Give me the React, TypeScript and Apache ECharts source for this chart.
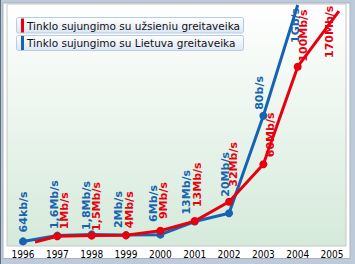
import React, { useEffect, useRef } from "react";
import * as echarts from "echarts";

const yearTicks = [1996, 1997, 1998, 1999, 2000, 2001, 2002, 2003, 2004, 2005];

const redName = "Tinklo sujungimo su užsieniu greitaveika";
const blueName = "Tinklo sujungimo su Lietuva greitaveika";

const blueYears = [1996, 1997, 1998, 1999, 2000, 2001, 2002, 2003, 2004];
const blueValues = [1.9, 4.3, 4.8, 4.5, 4.7, 10.1, 13.5, 53.8, 99.6];
const blueLabels = ["64kb/s", "1,6Mb/s", "1,8Mb/s", "2Mb/s", "6Mb/s", "13Mb/s", "20Mb/s", "80b/s", "1Gb/s"];

const redYears = [1996.35, 1997, 1998, 1999, 2000, 2001, 2002, 2003, 2004, 2005.2];
const redValues = [1.65, 4.0, 4.3, 4.4, 6.3, 10.3, 18.3, 33.8, 74.1, 97.1];
const redLabels = ["", "1Mb/s", "1,5Mb/s", "4Mb/s", "9Mb/s", "13Mb/s", "32Mb/s", "60Mb/s", "100Mb/s", "170Mb/s"];

// layout: where each rotated label starts, relative to its point (px)
const blueLabelShift = [[0, -9], [-3, -6.5], [-5, -4.5], [-7.5, -7], [-7, -12.7], [-8, -7], [-4, -16.6], [-4, -6], [-2.7, 38]];
const redLabelShift = [[0, 0], [6.7, -7], [5, -4.7], [3.5, -7], [3, -11.7], [3, -14], [4.5, -15], [7, -7], [6, -5], [-9, 47]];
const blueNoMarker = [8];
const redNoMarker = [0, 9];

const BLUE = "#1763b3";
const RED = "#e8000e";

function buildData(xs: number[], ys: number[], shifts: number[][], noMarker: number[]) {
  return xs.map((x, i) => ({
    value: [x, ys[i]],
    symbolSize: noMarker.includes(i) ? 0.1 : 8,
    label: { offset: [-shifts[i][1], shifts[i][0]] },
  }));
}

export default function App() {
  const ref = useRef<HTMLDivElement>(null);
  useEffect(() => {
    if (!ref.current) return;
    const chart = echarts.init(ref.current, undefined, { renderer: "svg" });
    const labelBase = {
      show: true,
      position: "inside",
      rotate: 90,
      align: "left",
      verticalAlign: "middle",
      fontSize: 11,
      fontWeight: "bold",
      fontFamily: "DejaVu Sans",
    };
    const legendBase = {
      left: 21,
      orient: "horizontal",
      icon: "rect",
      itemWidth: 3,
      itemHeight: 14,
      padding: 0,
      selectedMode: false,
      textStyle: { fontSize: 10.5, color: "#111", fontFamily: "DejaVu Sans", padding: [0, 0, 0, -2] },
    };
    const boxFill = () =>
      new echarts.graphic.LinearGradient(0, 0, 0, 1, [
        { offset: 0, color: "#ffffff" },
        { offset: 1, color: "#dbe6f3" },
      ]);
    chart.setOption({
      animation: false,
      backgroundColor: "#bccad9",
      graphic: [
        {
          type: "rect",
          z: -1,
          shape: { x: 3, y: 3, width: 347, height: 255.5 },
          style: { fill: "#ffffff", stroke: "#a9b3be", lineWidth: 1 },
        },
        {
          type: "line",
          z: -1,
          shape: { x1: 0.5, y1: 0, x2: 0.5, y2: 264 },
          style: { stroke: "#5d6d82", lineWidth: 1 },
        },
        {
          type: "rect",
          z: 3,
          shape: { x: 16.5, y: 17.5, width: 227, height: 15.5, r: 2 },
          style: { fill: boxFill(), stroke: "#b7cbe2", lineWidth: 1 },
        },
        {
          type: "rect",
          z: 3,
          shape: { x: 16.5, y: 35.5, width: 227, height: 15, r: 2 },
          style: { fill: boxFill(), stroke: "#b7cbe2", lineWidth: 1 },
        },
      ],
      legend: [
        { ...legendBase, data: [redName], top: 18.5 },
        { ...legendBase, data: [blueName], top: 36 },
      ],
      grid: {
        left: 7,
        right: 9,
        top: 4,
        bottom: 18,
        show: true,
        borderColor: "#c4c6c8",
        borderWidth: 1,
        backgroundColor: new echarts.graphic.LinearGradient(0, 0, 0, 1, [
          { offset: 0, color: "#ffffff" },
          { offset: 1, color: "#d5eada" },
        ]),
      },
      xAxis: {
        type: "value",
        min: 1995.534,
        max: 2005.406,
        axisLine: { show: false },
        axisTick: { show: false, customValues: yearTicks },
        splitLine: { show: false },
        axisLabel: {
          customValues: yearTicks,
          formatter: (v: number) => String(v),
          margin: 3,
          color: "#000",
          fontSize: 10,
          fontFamily: "DejaVu Sans Condensed, Liberation Sans",
        },
      },
      yAxis: { type: "value", min: 0, max: 100, show: false },
      series: [
        {
          name: blueName,
          type: "line",
          data: buildData(blueYears, blueValues, blueLabelShift, blueNoMarker),
          symbol: "circle",
          symbolSize: 8,
          lineStyle: { color: BLUE, width: 3 },
          itemStyle: { color: BLUE },
          label: { ...labelBase, color: BLUE, formatter: (p: any) => blueLabels[p.dataIndex] },
          emphasis: { disabled: true },
          silent: true,
          z: 2,
        },
        {
          name: redName,
          type: "line",
          data: buildData(redYears, redValues, redLabelShift, redNoMarker),
          symbol: "circle",
          symbolSize: 8,
          lineStyle: { color: RED, width: 3 },
          itemStyle: { color: RED },
          label: { ...labelBase, color: RED, formatter: (p: any) => redLabels[p.dataIndex] },
          emphasis: { disabled: true },
          silent: true,
          z: 3,
        },
      ],
    });
    return () => chart.dispose();
  }, []);
  return (
    <div
      ref={ref}
      style={{ position: "fixed", left: 0, top: 0, width: 355, height: 264 }}
    />
  );
}
